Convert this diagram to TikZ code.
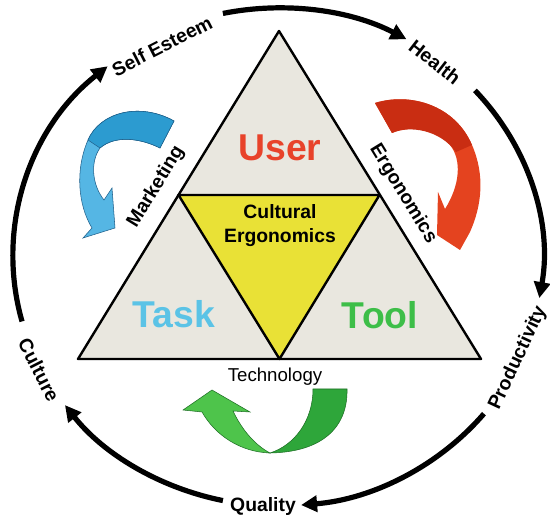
\documentclass[tikz,border=0pt]{standalone}
\usepackage{fontspec}
\setmainfont{Liberation Sans}
\usetikzlibrary{arrows.meta}

\definecolor{triFill}{HTML}{E9E7DF}
\definecolor{culYellow}{HTML}{E9E136}
\definecolor{userRed}{HTML}{E8432A}
\definecolor{taskBlue}{HTML}{5BC3E6}
\definecolor{toolGreen}{HTML}{3DBE48}
\definecolor{blueLight}{HTML}{55B6E4}
\definecolor{blueDark}{HTML}{2C9BD0}
\definecolor{blueLine}{HTML}{1F5F8A}
\definecolor{redLight}{HTML}{E4431F}
\definecolor{redDark}{HTML}{C92D12}
\definecolor{greenLight}{HTML}{4EC44B}
\definecolor{greenDark}{HTML}{2EA63A}
\definecolor{greenLine}{HTML}{1E6E25}

\begin{document}
\begin{tikzpicture}[x=0.75pt,y=0.75pt,yscale=-1,xscale=1,
    ring/.style={line width=3.9pt,-{Triangle[length=12pt,width=12pt]}},
    ringlabel/.style={inner sep=0.75pt,font=\bfseries\fontsize{14.5}{16}\selectfont},
    bigword/.style={inner sep=0.75pt,font=\bfseries\fontsize{28}{30}\selectfont}]
    \path[use as bounding box] (0,0) rectangle (550,523);

    %Shape: Triangle
    \coordinate (apex) at (279,31);
    \coordinate (left) at (78,359);
    \coordinate (right) at (481,359);
    \draw[line width=1.8pt,fill=triFill,line join=round] (apex) -- (left) -- (right) -- cycle;
    %Shape: Inner Triangle
    \coordinate (midl) at (178.5,195);
    \coordinate (midr) at (379.5,195);
    \coordinate (midb) at (279.5,359);
    \draw[line width=1.8pt,fill=culYellow,line join=round] (midl) -- (midr) -- (midb) -- cycle;

    % Text Node
    \draw (280,148) node (user) [bigword,text=userRed] {User};
    % Text Node
    \draw (174,314) node (task) [bigword,text=taskBlue] {Task};
    % Text Node
    \draw (380,315) node (tool) [bigword,text=toolGreen] {Tool};
    % Text Node
    \draw (280,226) node (cultural) [ringlabel,align=center,font=\bfseries\fontsize{14.5}{18}\selectfont] {Cultural\\Ergonomics};
    % Text Node
    \draw (156,187) node (marketing) [ringlabel,rotate=58.5] {Marketing};
    % Text Node
    \draw (403,194) node (ergonomics) [ringlabel,rotate=-58.5] {Ergonomics};
    % Text Node
    \draw (275,377) node (technology) [inner sep=0.75pt,font=\fontsize{14}{16}\selectfont] {Technology};

    %Curved Arrow (blue)
    \draw[blueLine,line width=0.4pt,fill=blueLight] (174,121) .. controls (140,102) and (100,112) .. (88,140) .. controls (75,170) and (78,205) .. (92,228) -- (83,238) -- (115,228) -- (112,188) -- (104,200) .. controls (92,185) and (90,162) .. (100,148) .. controls (115,135) and (140,138) .. (160,148) -- cycle;
    \draw[blueLine,line width=0.4pt,fill=blueDark] (174,121) .. controls (140,102) and (100,112) .. (88,140) -- (100,148) .. controls (115,135) and (140,138) .. (160,148) -- cycle;

    %Curved Arrow (red)
    \fill[redLight] (375,103) .. controls (410,92) and (455,105) .. (472,145) .. controls (485,175) and (482,205) .. (470,232) -- (460,250) -- (437,235) -- (438,192) -- (445,209) .. controls (460,185) and (462,160) .. (450,145) .. controls (435,128) and (410,125) .. (392,133) -- cycle;
    \fill[redDark] (375,103) .. controls (410,92) and (455,105) .. (472,145) -- (456,152) .. controls (440,130) and (410,125) .. (392,133) -- cycle;

    %Curved Arrow (green)
    \draw[greenLine,line width=0.4pt,fill=greenLight] (270,453) .. controls (240,452) and (215,435) .. (202,412) -- (183,410) -- (212,390) -- (250,412) -- (233,411) .. controls (242,430) and (255,445) .. (270,453) -- cycle;
    \draw[greenLine,line width=0.4pt,fill=greenDark] (270,453) .. controls (325,452) and (348,425) .. (347,389) -- (313,389) .. controls (313,420) and (295,445) .. (270,453) -- cycle;

    %Ring of outcomes
    \coordinate (hub) at (278,257);
    \path (hub) ++(-102:265 and 249) coordinate (esteem-out);
    \path (hub) ++(-42:265 and 249) coordinate (health-out);
    \path (hub) ++(39:265 and 249) coordinate (product-out);
    \path (hub) ++(102:265 and 249) coordinate (quality-out);
    \path (hub) ++(165:265 and 249) coordinate (culture-out);

    % Text Node
    \draw (162,46) node (selfesteem) [ringlabel,rotate=27] {Self Esteem};
    % Text Node
    \draw (435,62) node (health) [ringlabel,rotate=-38] {Health};
    % Text Node
    \draw (518,358) node (productivity) [ringlabel,rotate=65] {Productivity};
    % Text Node
    \draw (263,507) node (quality) [ringlabel] {Quality};
    % Text Node
    \draw (39,370) node (culture) [ringlabel,rotate=-63] {Culture};

    %Curve Lines
    \draw[ring] (esteem-out) arc[start angle=-102,end angle=-61,x radius=265,y radius=249];
    \draw[ring] (health-out) arc[start angle=-42,end angle=9.5,x radius=265,y radius=249];
    \draw[ring] (product-out) arc[start angle=39,end angle=85,x radius=265,y radius=249];
    \draw[ring] (quality-out) arc[start angle=102,end angle=143.5,x radius=265,y radius=249];
    \draw[ring] (culture-out) arc[start angle=165,end angle=230,x radius=265,y radius=249];
\end{tikzpicture}
\end{document}
